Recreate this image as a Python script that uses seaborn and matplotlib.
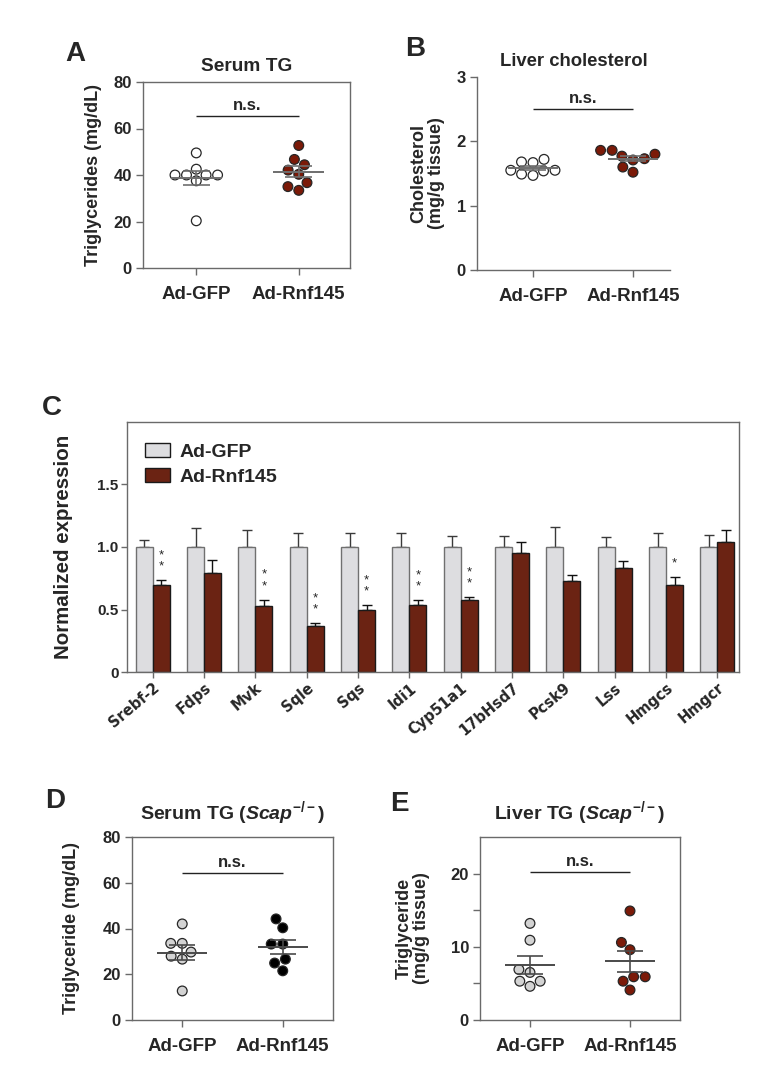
import numpy as np
import pandas as pd
import matplotlib
matplotlib.use("Agg")
import matplotlib.pyplot as plt
import seaborn as sns

# ---- data ----
groups = ["Ad-GFP", "Ad-Rnf145"]

# A: serum TG (mg/dL)
serum_tg_gfp = [49.5, 42.5, 40.0, 40.0, 37.5, 40.0, 40.0, 20.3]
serum_tg_rnf = [52.7, 46.7, 44.4, 42.1, 40.3, 36.7, 35.0, 33.4]

# B: liver cholesterol (mg/g tissue)
liver_chol_gfp = [1.68, 1.72, 1.67, 1.55, 1.54, 1.47, 1.49, 1.55]
liver_chol_rnf = [1.86, 1.86, 1.77, 1.71, 1.80, 1.73, 1.52, 1.60]

# C: normalized expression
genes = ["Srebf-2", "Fdps", "Mvk", "Sqle", "Sqs", "Idi1", "Cyp51a1",
         "17bHsd7", "Pcsk9", "Lss", "Hmgcs", "Hmgcr"]
expr_gfp = [1.0] * 12
expr_gfp_err = [0.056, 0.15, 0.135, 0.11, 0.11, 0.11, 0.09, 0.09, 0.16, 0.08, 0.11, 0.10]
expr_rnf = [0.70, 0.79, 0.53, 0.37, 0.50, 0.54, 0.58, 0.955, 0.73, 0.83, 0.70, 1.04]
expr_rnf_err = [0.036, 0.11, 0.05, 0.02, 0.035, 0.035, 0.02, 0.085, 0.05, 0.06, 0.06, 0.095]
stars = ["**", "", "**", "**", "**", "**", "**", "", "", "", "*", ""]

# D: serum TG in Scap-/- (mg/dL)
scap_serum_gfp = [42.0, 33.5, 33.5, 27.9, 29.7, 26.6, 12.7]
scap_serum_rnf = [44.2, 40.3, 33.2, 33.2, 26.6, 24.9, 21.5]

# E: liver TG in Scap-/- (mg/g tissue)
scap_liver_gfp = [13.2, 10.9, 6.9, 6.5, 5.3, 5.3, 4.6]
scap_liver_rnf = [14.9, 10.6, 9.6, 5.9, 5.9, 5.3, 4.1]

sns.set_theme(style="ticks")
plt.rcParams["font.family"] = ["Liberation Sans", "DejaVu Sans"]
plt.rcParams["font.weight"] = "bold"
plt.rcParams["axes.labelweight"] = "bold"
plt.rcParams["axes.titleweight"] = "bold"
plt.rcParams["mathtext.fontset"] = "custom"
plt.rcParams["mathtext.rm"] = "Liberation Sans:bold"
plt.rcParams["mathtext.it"] = "Liberation Sans:italic:bold"

SPINE = "#6a6a6a"
DARKRED = "#7b1a08"


def style_axes(ax, box):
    for side in ["left", "bottom", "top", "right"]:
        ax.spines[side].set_color(SPINE)
        ax.spines[side].set_linewidth(1.0)
    if not box:
        ax.spines["top"].set_visible(False)
        ax.spines["right"].set_visible(False)
    ax.tick_params(axis="both", color=SPINE, length=5, width=1, direction="out")


def mean_sem(ax, vals, x, color):
    vals = np.asarray(vals)
    m = vals.mean()
    se = vals.std(ddof=1) / np.sqrt(len(vals))
    ax.hlines(m, x - 0.25, x + 0.25, color=color, lw=1.4, zorder=5)
    ax.vlines(x, m - se, m + se, color=color, lw=1.2, zorder=5)
    ax.hlines([m - se, m + se], x - 0.13, x + 0.13, color=color, lw=1.2, zorder=5)


def dot_panel(ax, gfp, rnf, colors, ylim, yticks, ylabel, title, ns_y, label_x,
              box=True, xlim=(-0.5, 1.5), title_pad=8, minor=None, line_color="#6e6e6e",
              title_size=13.3):
    df = pd.DataFrame({"group": [groups[0]] * len(gfp) + [groups[1]] * len(rnf),
                       "value": list(gfp) + list(rnf)})
    sns.swarmplot(data=df, x="group", y="value", hue="group", order=groups,
                  palette=colors, size=7, linewidth=0.9, edgecolor="#262626",
                  legend=False, ax=ax, zorder=3)
    mean_sem(ax, gfp, 0, line_color)
    mean_sem(ax, rnf, 1, line_color)
    ax.hlines(ns_y, 0, 1, color="#222222", lw=1.0)
    ax.text(0.5, ns_y + (ylim[1] - ylim[0]) * 0.018, "n.s.", ha="center", va="bottom",
            fontsize=12, fontweight="bold")
    ax.set_ylim(*ylim)
    ax.set_xlim(*xlim)
    ax.set_yticks(yticks)
    if minor is not None:
        ax.set_yticks(minor, minor=True)
        ax.tick_params(axis="y", which="minor", length=5, width=1, color=SPINE)
    ax.set_xlabel("")
    ax.set_ylabel(ylabel, fontsize=13, fontweight="bold", linespacing=1.05)
    ax.yaxis.set_label_coords(label_x, 0.5)
    ax.set_title(title, fontsize=title_size, fontweight="bold", pad=title_pad)
    style_axes(ax, box)
    ax.tick_params(axis="x", labelsize=13.5, pad=8)
    ax.tick_params(axis="y", labelsize=12, pad=3)
    for t in ax.get_xticklabels() + ax.get_yticklabels():
        t.set_fontweight("bold")


fig = plt.figure(figsize=(7.6, 10.72), dpi=100)

# A
axA = fig.add_axes([143 / 760, 1 - 268 / 1072, 207 / 760, 186 / 1072])
dot_panel(axA, serum_tg_gfp, serum_tg_rnf, ["white", DARKRED], (0, 80), [0, 20, 40, 60, 80],
          "Triglycerides (mg/dL)", "Serum TG", 65.3, -0.198, box=True, xlim=(-0.52, 1.5),
          title_size=13.8)

# B
axB = fig.add_axes([477 / 760, 1 - 270 / 1072, 193 / 760, 193 / 1072])
dot_panel(axB, liver_chol_gfp, liver_chol_rnf, ["white", DARKRED], (0, 3), [0, 1, 2, 3],
          "Cholesterol\n(mg/g tissue)", "Liver cholesterol", 2.5, -0.166, box=False,
          xlim=(-0.56, 1.37))

# C
axC = fig.add_axes([127 / 760, 1 - 672 / 1072, 612 / 760, 250 / 1072])
df_c = pd.DataFrame({"gene": genes * 2,
                     "group": [groups[0]] * len(genes) + [groups[1]] * len(genes),
                     "value": expr_gfp + expr_rnf})
sns.barplot(data=df_c, x="gene", y="value", hue="group", order=genes, hue_order=groups,
            palette=["#dcdce0", "#7a1a04"], errorbar=None, width=0.66, gap=0,
            edgecolor="#1a1a1a", linewidth=1.0, ax=axC, zorder=2)
for bar in axC.containers[0]:
    bar.set_edgecolor("#707070")
for cont, errs, ecol in [(axC.containers[0], expr_gfp_err, "#3a3a3a"),
                         (axC.containers[1], expr_rnf_err, "#111111")]:
    xs = [b.get_x() + b.get_width() / 2 for b in cont]
    hs = [b.get_height() for b in cont]
    axC.errorbar(xs, hs, yerr=[np.zeros(len(errs)), errs], fmt="none", ecolor=ecol,
                 elinewidth=1.0, capsize=3.5, capthick=1.0, zorder=1)
rnf_x = [b.get_x() + b.get_width() / 2 for b in axC.containers[1]]
for x, h, e, s in zip(rnf_x, expr_rnf, expr_rnf_err, stars):
    if s:
        axC.text(x, h + e + 0.06, "\n".join(s), ha="center", va="bottom", fontsize=9.5,
                 fontweight="normal", linespacing=0.95)
axC.set_ylim(0, 2.0)
axC.set_xlim(-0.5, 11.42)
axC.set_yticks([0, 0.5, 1.0, 1.5])
axC.set_yticklabels(["0", "0.5", "1.0", "1.5"])
axC.set_xlabel("")
axC.set_ylabel("Normalized expression", fontsize=14.8, fontweight="bold")
axC.yaxis.set_label_coords(-0.088, 0.5)
style_axes(axC, True)
axC.tick_params(axis="y", labelsize=11, pad=2, length=4)
axC.tick_params(axis="x", length=4, pad=2)
plt.setp(axC.get_xticklabels(), rotation=40, ha="right", rotation_mode="anchor",
         fontsize=10.5, fontweight="bold", family="DejaVu Sans")
for t in axC.get_yticklabels():
    t.set_fontweight("bold")
leg = axC.legend(loc="upper left", bbox_to_anchor=(0.0, 0.985), frameon=False,
                 prop={"weight": "bold", "size": 14}, handlelength=1.3, handleheight=0.75,
                 handletextpad=0.5, labelspacing=0.35)

# D
axD = fig.add_axes([132 / 760, 1 - 1020 / 1072, 201 / 760, 183 / 1072])
dot_panel(axD, scap_serum_gfp, scap_serum_rnf, ["#d3d3d3", "#000000"], (0, 80),
          [0, 20, 40, 60, 80], "Triglyceride (mg/dL)",
          r"Serum TG ($\mathit{Scap}^{-/-}$)", 64.3, -0.259, box=True, title_pad=13,
          line_color="#4a4a4a", title_size=14)

# E
axE = fig.add_axes([480 / 760, 1 - 1020 / 1072, 200 / 760, 183 / 1072])
dot_panel(axE, scap_liver_gfp, scap_liver_rnf, ["#d3d3d3", DARKRED], (0, 25),
          [0, 10, 20], "Triglyceride\n(mg/g tissue)",
          r"Liver TG ($\mathit{Scap}^{-/-}$)", 20.2, -0.25, box=True, title_pad=13,
          minor=[5, 15], line_color="#4a4a4a", title_size=14)

# panel letters
for letter, x, y in [("A", 65, 41), ("B", 405, 36), ("C", 42, 395), ("D", 45, 788), ("E", 390, 791)]:
    fig.text(x / 760, 1 - y / 1072, letter, fontsize=20, fontweight="bold", ha="left", va="top")

fig.savefig("out.png", dpi=100)
